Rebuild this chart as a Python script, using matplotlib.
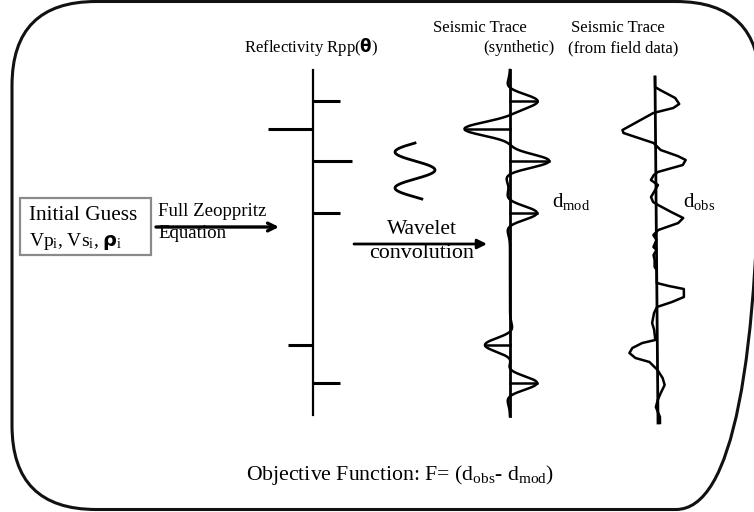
import numpy as np
import matplotlib
matplotlib.use('Agg')
import matplotlib.pyplot as plt
from matplotlib.patches import FancyBboxPatch, Rectangle

plt.rcParams['font.family'] = ['Liberation Serif', 'DejaVu Sans']
plt.rcParams['mathtext.fontset'] = 'custom'
plt.rcParams['mathtext.rm'] = 'Liberation Serif'
plt.rcParams['mathtext.it'] = 'Liberation Serif:italic'
plt.rcParams['mathtext.bf'] = 'DejaVu Sans:bold'

# ---------------- data ----------------
# reflectivity spikes: two-way time (px down the page) and amplitude (px)
spike_times = [101, 129, 161, 213, 345, 383]
spike_amps = [27, -45, 39, 27, -25, 27]

# observed (field) trace, digitised: time and amplitude
obs_times = [77, 87, 90, 98, 104, 108, 113, 130, 133, 143, 150, 156, 160, 165,
             172, 175, 180, 185, 192, 197, 202, 205, 212, 218, 223, 230, 235,
             240, 247, 250, 255, 260, 267, 270, 283, 286, 289, 297, 302, 307,
             313, 323, 330, 340, 343, 348, 353, 358, 362, 370, 378, 385, 393,
             400, 407, 417, 423]
obs_amps = [0, 0, 5, 20, 24, 18, -2, -33, -32, -2, 5, 22, 30, 27,
            2, -2, -5, 2, -2, -5, -3, 2, 15, 27, 22, 2, -3,
            0, -3, 0, -3, -2, -2, 0, 0, 12, 27, 27, 15, 0,
            -3, -5, -3, -2, -15, -25, -28, -22, -8, 0, 5, 7, 3,
            0, -2, 2, 2]

# ---------------- figure ----------------
fig = plt.figure(figsize=(7.54, 5.12), dpi=100)
ax = fig.add_axes([0, 0, 1, 1])
ax.set_xlim(0, 754)
ax.set_ylim(512, 0)
ax.axis('off')

# outer rounded frame
r = 84
x0, x1, y0, y1 = 12, 760, 1.5, 509.5
ax.add_patch(FancyBboxPatch((x0 + r, y0 + r), (x1 - x0) - 2 * r, (y1 - y0) - 2 * r,
                            boxstyle=f"round,pad={r}", fc='none', ec='#111111', lw=2.2))

# Initial guess box
ax.add_patch(Rectangle((20, 198), 131, 57, fc='white', ec='#8a8a8a', lw=1.6))
ax.text(29, 215, "Initial Guess", fontsize=15.3, va='center', ha='left')
ax.text(29, 241, r"Vp$_{\mathrm{i}}$, Vs$_{\mathrm{i}}$, $\mathbf{ρ}_{\mathrm{i}}$",
        fontsize=14, va='center', ha='left')

# Full Zoeppritz arrow
ax.text(158, 212, "Full Zeoppritz", fontsize=13.6, va='center', ha='left')
ax.text(158, 234, "Equation", fontsize=13.6, va='center', ha='left')
ax.annotate('', xy=(279, 227), xytext=(156, 227),
            arrowprops=dict(arrowstyle='->', lw=2.4, color='black',
                            mutation_scale=14, shrinkA=0, shrinkB=0))

# reflectivity column
refl_x = 313
ax.plot([refl_x, refl_x], [70, 415], color='black', lw=1.6)
for t, a in zip(spike_times, spike_amps):
    ax.plot([refl_x, refl_x + a], [t, t], color='black', lw=2.2, solid_capstyle='butt')
ax.text(311, 47, r"Reflectivity Rpp($\mathbf{θ}$)", fontsize=12, ha='center', va='center')

# wavelet icon
wy = np.linspace(143, 199, 200)
wx = 415 - 20 * np.cos(2 * np.pi * (wy - 152) / 36)
ax.plot(wx, wy, color='black', lw=2)

# wavelet convolution arrow
ax.text(422, 230, "Wavelet", fontsize=15.5, ha='center', va='center')
ax.text(422, 254, "convolution", fontsize=15.8, ha='center', va='center')
ax.annotate('', xy=(487, 244), xytext=(354, 244),
            arrowprops=dict(arrowstyle='-|>', lw=2, color='black',
                            mutation_scale=14, shrinkA=0, shrinkB=0))

# synthetic trace = reflectivity convolved with a wavelet
syn_x = 510
tt = np.arange(70, 416.5, 0.5)
sig = 12.0
syn = np.zeros_like(tt)
for t, a in zip(spike_times, spike_amps):
    u = (tt - t) / sig
    syn += a * (1 - 0.8 * u ** 2) * np.exp(-u ** 2)
ax.plot([syn_x, syn_x], [70, 416], color='black', lw=2)
ax.plot(syn_x + syn, tt, color='black', lw=1.8)
for t, a in zip(spike_times, spike_amps):
    ax.plot([syn_x, syn_x + a], [t, t], color='black', lw=1.8)
ax.text(552, 201, r"d$_{\mathrm{mod}}$", fontsize=15, ha='left', va='center')
ax.text(480, 28, "Seismic Trace", fontsize=12, ha='center', va='center')
ax.text(555, 48, "(synthetic)", fontsize=12, ha='right', va='center')

# observed trace
obs_x0 = 655
ax.plot([655, 658], [77, 423], color='black', lw=2)
ox = [obs_x0 + a + 3 * (t - 77) / 346 for t, a in zip(obs_times, obs_amps)]
ax.plot(ox, obs_times, color='black', lw=1.8)
ax.text(683, 201, r"d$_{\mathrm{obs}}$", fontsize=15, ha='left', va='center')
ax.text(618, 28, "Seismic Trace", fontsize=12, ha='center', va='center')
ax.text(623, 48, "(from field data)", fontsize=12, ha='center', va='center')

# objective function
ax.text(400, 475, r"Objective Function: F= (d$_{\mathrm{obs}}$- d$_{\mathrm{mod}}$)",
        fontsize=15.7, ha='center', va='center')

fig.savefig('out.png', dpi=100)
